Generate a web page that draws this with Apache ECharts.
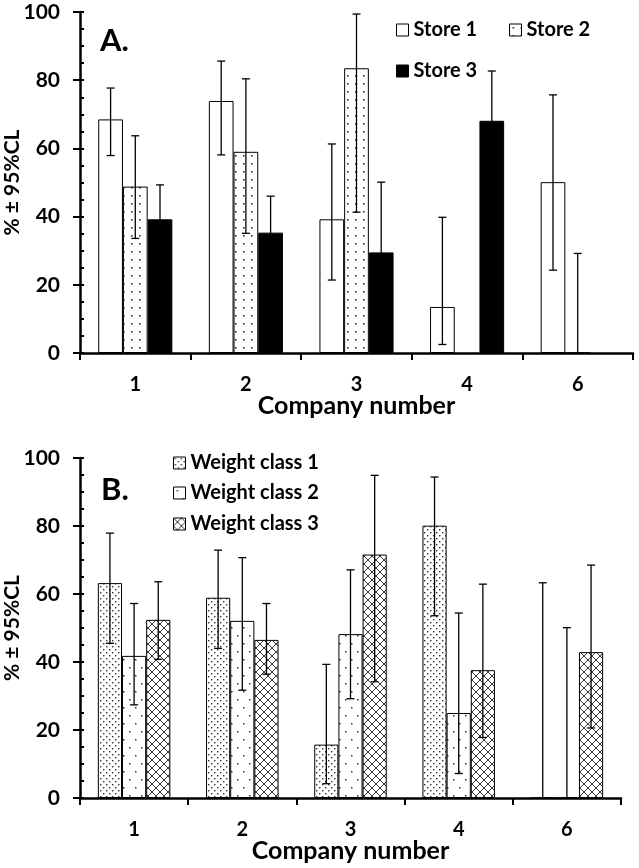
<!DOCTYPE html>
<html>
<head>
<meta charset="utf-8">
<script src="https://cdn.jsdelivr.net/npm/echarts@6/dist/echarts.min.js"></script>
<style>html,body{margin:0;padding:0;background:#fff;}#c{width:639px;height:868px;}</style>
</head>
<body>
<div id="c"></div>
<script>
// ---------- DATA ----------
const categories = ['1', '2', '3', '4', '6'];
const yTicks = [0, 20, 40, 60, 80, 100];

const store1   = [68.5, 73.9, 39.2, 13.5, 50.1];
const store1Lo = [57.9, 58.1, 21.4, 2.5, 24.3];
const store1Hi = [77.7, 85.6, 61.3, 39.8, 75.7];
const store2   = [48.8, 59.0, 83.5, null, 0];
const store2Lo = [33.6, 35.1, 41.3, null, 0];
const store2Hi = [63.7, 80.4, 99.4, null, 29.2];
const store3   = [39.2, 35.3, 29.5, 68.1, null];
const store3Lo = [29.1, 24.6, 8.9, 53.5, null];
const store3Hi = [49.3, 46.0, 50.1, 82.7, null];

const wc1   = [63.2, 58.9, 15.7, 80.1, 0];
const wc1Lo = [45.5, 44.0, 4.2, 53.6, 0];
const wc1Hi = [77.9, 72.9, 39.3, 94.4, 63.3];
const wc2   = [41.8, 52.1, 48.2, 25.0, 0];
const wc2Lo = [27.4, 31.7, 29.2, 7.2, 0];
const wc2Hi = [57.2, 70.7, 67.1, 54.4, 50.1];
const wc3   = [52.4, 46.5, 71.6, 37.6, 42.9];
const wc3Lo = [40.8, 36.4, 34.2, 17.8, 20.6];
const wc3Hi = [63.6, 57.2, 94.9, 62.9, 68.5];

// ---------- PATTERNS ----------
function tile(w, h, draw) {
  const c = document.createElement('canvas');
  c.width = w; c.height = h;
  const g = c.getContext('2d');
  g.fillStyle = '#fff'; g.fillRect(0, 0, w, h);
  draw(g);
  return { image: c, repeat: 'repeat' };
}
function dots(pts, size) {
  return g => { g.fillStyle = '#333'; pts.forEach(p => g.fillRect(p[0], p[1], size, size)); };
}
const patStore2 = tile(8, 8, dots([[3, 3]], 1.6));
const patWc1 = tile(6, 6, dots([[1, 1], [4, 4]], 1.4));
const patWc2 = tile(12, 16, dots([[3, 3], [9, 11]], 1.5));
const patWc3 = tile(8, 8, g => {
  g.strokeStyle = '#222'; g.lineWidth = 0.9;
  g.beginPath(); g.moveTo(0, 0); g.lineTo(8, 8); g.moveTo(8, 0); g.lineTo(0, 8); g.stroke();
});

// ---------- HELPERS ----------
const FONT = 'Lato';
const GAP = 0.33;
function errData(lo, hi, slot) {
  const out = [];
  lo.forEach((l, i) => { if (l !== null && hi[i] !== null) out.push([i, l, hi[i], slot]); });
  return out;
}
function errSeries(name, data, gi) {
  return {
    type: 'custom', name: name, xAxisIndex: gi, yAxisIndex: gi * 2, data: data, z: 5, silent: true,
    encode: { x: 0, y: [1, 2] },
    renderItem: function (params, api) {
      const ci = api.value(0), slot = api.value(3);
      const band = api.size([1, 0])[0];
      const bw = band * (1 - GAP) / 3;
      const lo = api.coord([ci, api.value(1)]);
      const hi = api.coord([ci, api.value(2)]);
      const x = lo[0] + (slot - 1) * bw;
      const cap = 4;
      const st = { stroke: '#000', lineWidth: 1.3 };
      return { type: 'group', children: [
        { type: 'line', shape: { x1: x, y1: lo[1], x2: x, y2: hi[1] }, style: st },
        { type: 'line', shape: { x1: x - cap, y1: hi[1], x2: x + cap, y2: hi[1] }, style: st },
        { type: 'line', shape: { x1: x - cap, y1: lo[1], x2: x + cap, y2: lo[1] }, style: st }
      ]};
    }
  };
}
function barSeries(name, data, color, gi) {
  return {
    type: 'bar', name: name, data: data, xAxisIndex: gi, yAxisIndex: gi * 2,
    barCategoryGap: (GAP * 100) + '%', barGap: '0%',
    itemStyle: { color: color, borderColor: '#000', borderWidth: 1 },
    emphasis: { disabled: true }
  };
}
function xAxis(gi) {
  return {
    type: 'category', gridIndex: gi, data: categories, boundaryGap: true,
    axisLine: { lineStyle: { color: '#000', width: 2.5 } },
    axisTick: { show: true, length: 7, lineStyle: { color: '#000', width: 2 } },
    axisLabel: { color: '#000', fontFamily: FONT, fontWeight: 'bold', fontSize: 20, margin: 22 },
    name: 'Company number', nameLocation: 'middle', nameGap: 40, nameMoveOverlap: false,
    nameTextStyle: { color: '#000', fontFamily: FONT, fontWeight: 'bold', fontSize: 25 }
  };
}
function yAxes(gi) {
  return [{
    type: 'value', gridIndex: gi, min: yTicks[0], max: yTicks[yTicks.length - 1], interval: 20,
    axisLine: { show: true, lineStyle: { color: '#000', width: 2.5 } },
    axisTick: { show: true, length: 7, lineStyle: { color: '#000', width: 2 } },
    splitLine: { show: false },
    axisLabel: { color: '#000', fontFamily: FONT, fontWeight: 'bold', fontSize: 21, margin: 20 },
    name: '% ± 95%CL', nameLocation: 'middle', nameGap: 57, nameMoveOverlap: false,
    nameTextStyle: { color: '#000', fontFamily: FONT, fontWeight: 'bold', fontSize: 21 }
  }, {
    type: 'value', gridIndex: gi, position: 'left', min: 0, max: 100, interval: 5,
    axisLine: { show: false }, splitLine: { show: false }, axisLabel: { show: false },
    axisTick: { show: true, inside: true, length: 4, lineStyle: { color: '#000', width: 2 } }
  }];
}
function legend(name, left, top) {
  return {
    data: [name], left: left, top: top, orient: 'horizontal', selectedMode: false,
    itemWidth: 12, itemHeight: 12, itemGap: 0, icon: 'rect', padding: 0,
    itemStyle: { borderColor: '#000', borderWidth: 1 },
    textStyle: { color: '#000', fontFamily: FONT, fontWeight: 'bold', fontSize: 20 }
  };
}

const chart = echarts.init(document.getElementById('c'), null, { renderer: 'canvas' });
chart.setOption({
  animation: false,
  backgroundColor: '#fff',
  grid: [
    { left: 80, right: 6, top: 12, height: 341, containLabel: false, outerBoundsMode: 'none' },
    { left: 80, right: 18, top: 458, height: 340, containLabel: false, outerBoundsMode: 'none' }
  ],
  xAxis: [xAxis(0), xAxis(1)],
  yAxis: yAxes(0).concat(yAxes(1)),
  legend: [
    legend('Store 1', 396, 20), legend('Store 2', 509, 20), legend('Store 3', 396, 61),
    legend('Weight class 1', 173, 453), legend('Weight class 2', 173, 483), legend('Weight class 3', 173, 514)
  ],
  graphic: [
    { type: 'text', left: 100, top: 25, style: { text: 'A.', font: 'bold 31px Lato', fill: '#000' } },
    { type: 'text', left: 101, top: 474, style: { text: 'B.', font: 'bold 31px Lato', fill: '#000' } }
  ],
  series: [
    barSeries('Store 1', store1, '#fff', 0),
    barSeries('Store 2', store2, patStore2, 0),
    barSeries('Store 3', store3, '#000', 0),
    errSeries('e1', errData(store1Lo, store1Hi, 0), 0),
    errSeries('e2', errData(store2Lo, store2Hi, 1), 0),
    errSeries('e3', errData(store3Lo, store3Hi, 2), 0),
    barSeries('Weight class 1', wc1, patWc1, 1),
    barSeries('Weight class 2', wc2, patWc2, 1),
    barSeries('Weight class 3', wc3, patWc3, 1),
    errSeries('f1', errData(wc1Lo, wc1Hi, 0), 1),
    errSeries('f2', errData(wc2Lo, wc2Hi, 1), 1),
    errSeries('f3', errData(wc3Lo, wc3Hi, 2), 1)
  ]
});
</script>
</body>
</html>
